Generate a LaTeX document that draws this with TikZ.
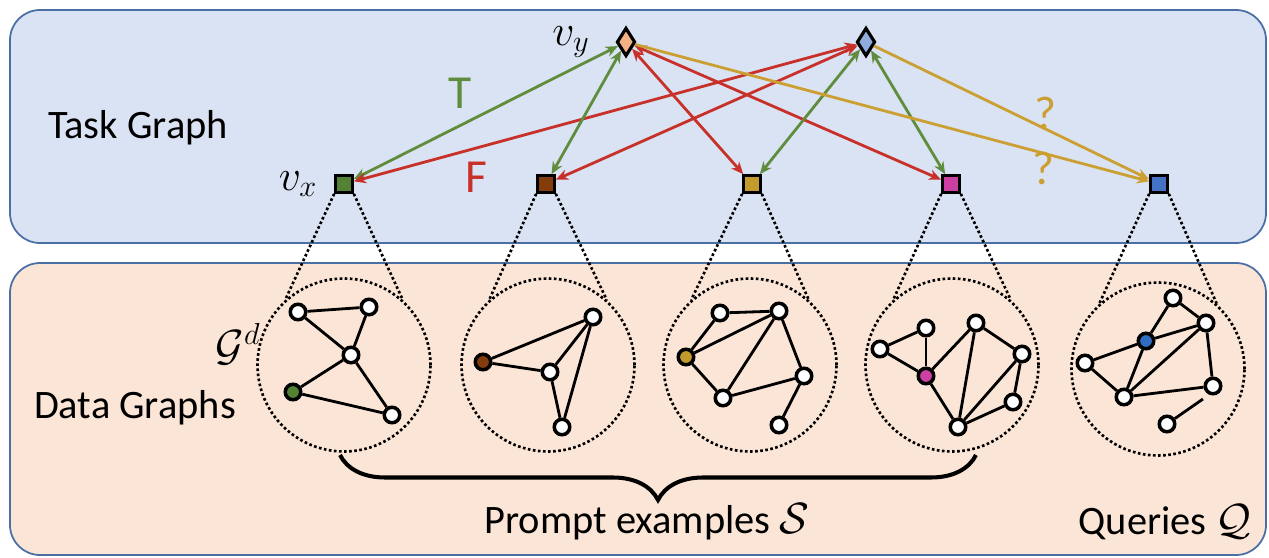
\documentclass[tikz,border=0pt]{standalone}
\usepackage{amsmath,amssymb}
\usepackage{fontspec}
\setmainfont{Carlito}
\usetikzlibrary{shapes.geometric,arrows.meta,decorations.pathreplacing}

\definecolor{taskfill}{HTML}{DAE3F3}
\definecolor{datafill}{HTML}{FBE5D6}
\definecolor{boxline}{HTML}{4A6FA5}
\definecolor{tgreen}{HTML}{5F8D3D}
\definecolor{tred}{HTML}{C8302A}
\definecolor{tgold}{HTML}{CC9F33}
\definecolor{ngreen}{HTML}{548235}
\definecolor{nbrown}{HTML}{843C0C}
\definecolor{ngold}{HTML}{C39A2C}
\definecolor{nmag}{HTML}{CC3FA3}
\definecolor{nblue}{HTML}{4472C4}
\definecolor{dblue}{HTML}{2E6DBF}
\definecolor{peach}{HTML}{F4B183}
\definecolor{lblue}{HTML}{8FAADC}

\tikzset{
  tbox/.style={draw=boxline,line width=1pt,rounded corners=0.6cm},
  tsq/.style={draw,line width=1.8pt,minimum size=0.33cm,inner sep=0},
  tdia/.style={diamond,draw,line width=1.8pt,minimum width=0.37cm,minimum height=0.57cm,inner sep=0},
  zoomc/.style={circle,draw,line width=1.5pt,dash pattern=on 1.5pt off 1.4pt,minimum size=3.46cm,inner sep=0},
  zoomln/.style={line width=1.5pt,dash pattern=on 1.5pt off 1.4pt},
  gnode/.style={circle,draw,fill=white,line width=2pt,minimum size=0.31cm,inner sep=0},
  gedge/.style={line width=1.6pt},
  tarr/.style={line width=1.6pt},
  lbl/.style={font=\fontsize{23}{28}\selectfont},
  tf/.style={font=\fontsize{27}{32}\selectfont},
  mlbl/.style={font=\fontsize{26}{30}\selectfont}
}

\begin{document}
\begin{tikzpicture}[x=0.02cm,y=-0.02cm,>={Stealth[length=7pt,width=6pt]}]
  \useasboundingbox (0,0) rectangle (1269,558);
  % Two panels
  \draw[tbox,fill=taskfill] (10,10) rectangle (1266,243);
  \draw[tbox,fill=datafill] (10,263) rectangle (1266,555);
  \node[lbl] (tg) at (138,128) {Task Graph};
  \node[lbl] (dg) at (135,408) {Data Graphs};

  % Magnifier circles
  \foreach \i/\x/\y in {1/344/365,2/548/365,3/750/365,4/952/365,5/1158/369}
    \node[zoomc] (c\i) at (\x,\y) {};

  % Task graph nodes
  \node[tsq,fill=ngreen] (s1) at (344,184) {};
  \node[tsq,fill=nbrown] (s2) at (546,184) {};
  \node[tsq,fill=ngold]  (s3) at (752,184) {};
  \node[tsq,fill=nmag]   (s4) at (951,184) {};
  \node[tsq,fill=nblue]  (q)  at (1159,184) {};
  \node[tdia,fill=peach] (dy) at (626,42) {};
  \node[tdia,fill=lblue] (dz) at (866,42) {};
  \node[mlbl] (vyl) at (571,42) {$v_y$};
  \node[mlbl] (vxl) at (298,184) {$v_x$};

  % Zoom lines from each square to its circle
  \foreach \s/\c in {s1/c1,s2/c2,s3/c3,s4/c4,q/c5} {
    \draw[zoomln] (\s.south west) -- (\c.132);
    \draw[zoomln] (\s.south east) -- (\c.48);
  }

  % Task graph edges
  \draw[tarr,tgreen,<->] (dy) -- (s1);
  \draw[tarr,tred,<->] (dz) -- (s1);
  \draw[tarr,tgreen,<->] (dy) -- (s2);
  \draw[tarr,tred,<->] (dz) -- (s2);
  \draw[tarr,tred,<->] (dy) -- (s3);
  \draw[tarr,tred,<->] (dy) -- (s4);
  \draw[tarr,tgreen,<->] (dz) -- (s3);
  \draw[tarr,tgreen,<->] (dz) -- (s4);
  \draw[tarr,tgold,->] (dy) -- (q);
  \draw[tarr,tgold,->] (dz) -- (q);
  \node[tf,text=tgreen] (lt) at (460,93) {T};
  \node[tf,text=tred] (lf) at (476,177) {F};
  \node[tf,text=tgold] (lq1) at (1045,113) {?};
  \node[tf,text=tgold] (lq2) at (1043,168) {?};

  % Data graph 1
  \foreach \n/\x/\y in {a/298/312,b/369/307,c/351/355,e/392/415}
    \node[gnode] (ga\n) at (\x,\y) {};
  \node[gnode,fill=ngreen] (gad) at (293,392) {};
  \foreach \a/\b in {a/b,a/c,b/c,c/d,c/e,d/e}
    \draw[gedge] (ga\a) -- (ga\b);
  \node[mlbl] (gdl) at (238,344) {$\mathcal{G}^d$};

  % Data graph 2
  \foreach \n/\x/\y in {a/593/317,c/550/372,d/562/427}
    \node[gnode] (gb\n) at (\x,\y) {};
  \node[gnode,fill=nbrown] (gbb) at (483,362) {};
  \foreach \a/\b in {b/a,b/c,c/a,c/d,d/a}
    \draw[gedge] (gb\a) -- (gb\b);

  % Data graph 3
  \foreach \n/\x/\y in {a/720/313,b/779/311,d/723/398,e/804/376,f/779/425}
    \node[gnode] (gc\n) at (\x,\y) {};
  \node[gnode,fill=ngold] (gcc) at (686,357) {};
  \foreach \a/\b in {a/b,a/c,c/b,c/d,d/b,b/e,d/e,e/f}
    \draw[gedge] (gc\a) -- (gc\b);

  % Data graph 4
  \foreach \n/\x/\y in {a/880/349,b/926/328,d/976/323,e/1022/354,f/1013/402,g/958/427}
    \node[gnode] (gd\n) at (\x,\y) {};
  \node[gnode,fill=nmag] (gdc) at (926,376) {};
  \foreach \a/\b in {a/b,a/c,b/c,c/d,c/g,d/g,d/e,e/g,e/f,f/g}
    \draw[gedge] (gd\a) -- (gd\b);

  % Query graph
  \foreach \n/\x/\y in {a/1173/298,b/1206/323,d/1085/363,e/1124/397,f/1213/386,g/1167/424}
    \node[gnode] (ge\n) at (\x,\y) {};
  \node[gnode,fill=dblue] (gec) at (1146,341) {};
  \foreach \a/\b in {a/b,a/c,c/b,c/d,c/e,d/e,e/b,e/f,b/f}
    \draw[gedge] (ge\a) -- (ge\b);
  \coordinate (geh) at (1203,399);
  \draw[gedge] (geg) -- (geh);

  % Brace under the prompt examples
  \coordinate (bl) at (340,455);
  \coordinate (br) at (976,455);
  \draw[line width=2.3pt,decorate,decoration={brace,mirror,amplitude=0.9cm}] (bl) -- (br);
  \node[lbl] (pe) at (647,522) {Prompt examples $\mathcal{S}$};
  \node[lbl] (qu) at (1165,522) {Queries $\mathcal{Q}$};
\end{tikzpicture}
\end{document}
